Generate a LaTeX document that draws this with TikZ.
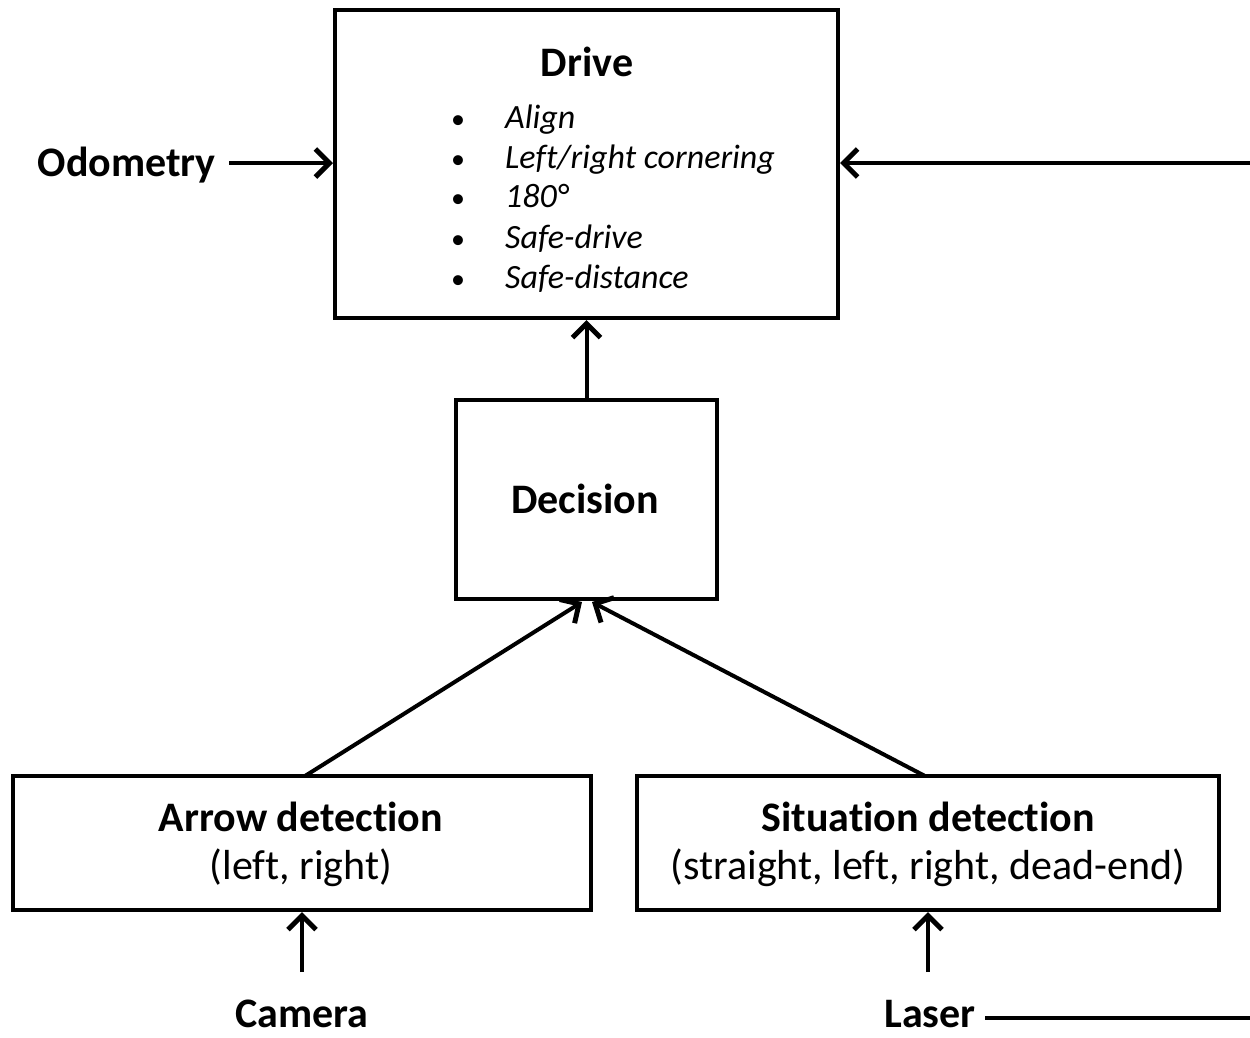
\documentclass[tikz,border=0pt]{standalone}
\usepackage{fontspec}
\setmainfont{Carlito}[Ligatures=NoCommon]
\usetikzlibrary{arrows.meta}
\begin{document}
\begin{tikzpicture}[x=1pt,y=-1pt,
  blk/.style={draw,line width=4pt,inner sep=0pt},
  arr/.style={line width=4pt,-{Straight Barb[length=14pt,width=28pt,line width=5pt]}},
  ln/.style={line width=4pt},
  ttl/.style={font=\fontsize{42}{48}\selectfont\bfseries,anchor=base,inner sep=0pt},
  sub/.style={font=\fontsize{42}{48}\selectfont,anchor=base,inner sep=0pt},
  itm/.style={font=\fontsize{34}{40}\selectfont\itshape,anchor=base west,inner sep=0pt},
  bul/.style={font=\fontsize{28}{34}\selectfont,anchor=base,inner sep=0pt}]
\useasboundingbox (0,0) rectangle (1250,1037);
% boxes
\node[blk,minimum width=503pt,minimum height=308pt] (drive) at (586.5,164) {};
\node[blk,minimum width=261pt,minimum height=199pt] (dec) at (586.5,499.5) {};
\node[blk,minimum width=578pt,minimum height=134pt] (arrowd) at (302,843) {};
\node[blk,minimum width=582pt,minimum height=134pt] (sitd) at (928,843) {};
% texts
\node[ttl] (tdrive) at (587,76) {Drive};
\foreach \t/\yy [count=\i] in {Align/128,{Left/right cornering}/168,{180°}/207,Safe-drive/248,Safe-distance/288}{
  \node[bul] (b\i) at (458,\yy) {•};
  \node[itm] (it\i) at (505,\yy) {\t};
}
\node[ttl] (tdec) at (585,513) {Decision};
\node[ttl] (tarr) at (301,831) {Arrow detection};
\node[sub] (tarr2) at (301,879) {(left, right)};
\node[ttl] (tsit) at (928,831) {Situation detection};
\node[sub] (tsit2) at (928,879) {(straight, left, right, dead-end)};
\node[ttl,anchor=base east] (odo) at (216,176) {Odometry};
\node[ttl] (cam) at (302,1027) {Camera};
\node[ttl] (las) at (930,1027) {Laser};
% coordinates
\coordinate (odoend) at (229,163);
\coordinate (rtop) at (1250,163);
\coordinate (camtop) at (302,972);
\coordinate (lastop) at (928,972);
\coordinate (lasstart) at (985,1018);
\coordinate (rbot) at (1250,1018);
\coordinate (decb1) at (582,602);
\coordinate (decb2) at (592,602);
\coordinate (arrt) at (305,776);
\coordinate (sitt) at (925,776);
% connectors
\draw[arr] (odoend) -- (drive.west |- odoend);
\draw[arr] (rtop) -- (drive.east |- rtop);
\draw[arr] (dec.north) -- (drive.south);
\draw[arr] (arrt) -- (decb1);
\draw[arr] (sitt) -- (decb2);
\draw[arr] (camtop) -- (arrowd.south -| camtop);
\draw[arr] (lastop) -- (sitd.south -| lastop);
\draw[ln] (lasstart) -- (rbot);
\end{tikzpicture}
\end{document}
